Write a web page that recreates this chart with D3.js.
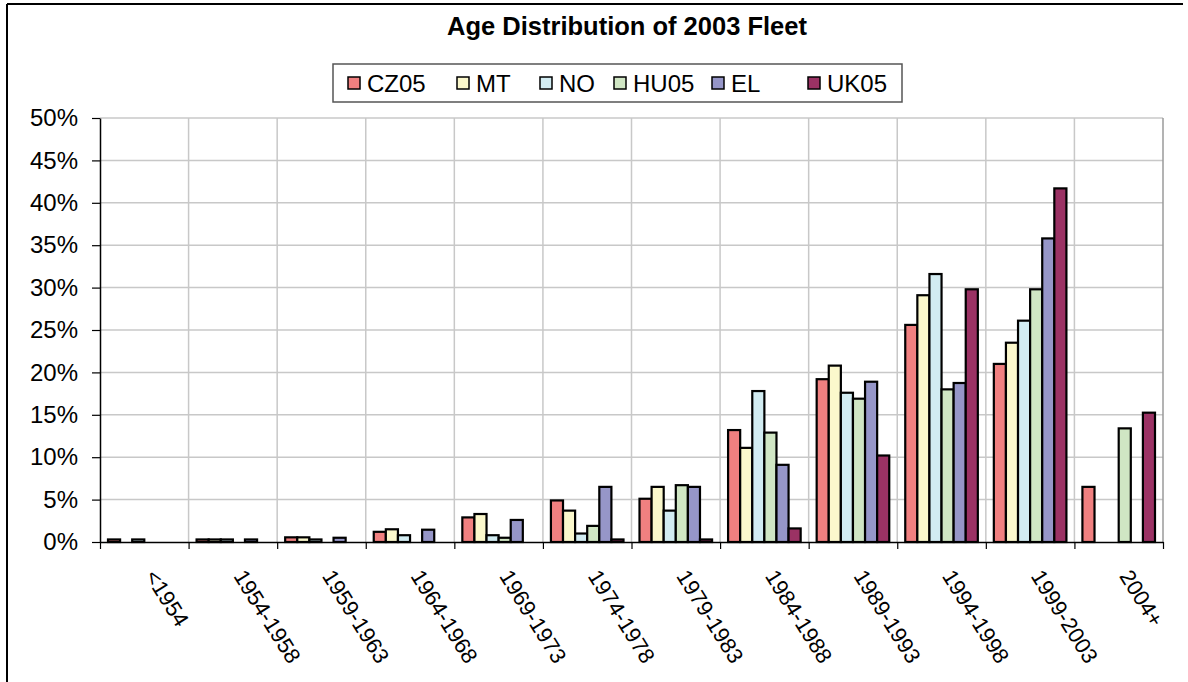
<!DOCTYPE html>
<html>
<head>
<meta charset="utf-8">
<script src="https://cdn.jsdelivr.net/npm/d3@7"></script>
<style>
  html, body { margin: 0; padding: 0; background: #fff; }
  svg { display: block; font-family: "Liberation Sans", Arial, sans-serif; }
</style>
</head>
<body>
<svg id="chart" width="1188" height="682"></svg>
<script>
const categories = ["<1954","1954-1958","1959-1963","1964-1968","1969-1973","1974-1978","1979-1983","1984-1988","1989-1993","1994-1998","1999-2003","2004+"];
const seriesNames = ["CZ05","MT","NO","HU05","EL","UK05"];
const CZ05 = [0.3,0.3,0.55,1.2,2.9,4.9,5.1,13.2,19.2,25.6,21.0,6.5];
const MT   = [0,0.3,0.55,1.5,3.3,3.7,6.5,11.1,20.8,29.1,23.5,0];
const NO   = [0.3,0.3,0.3,0.8,0.8,1.0,3.7,17.8,17.6,31.6,26.1,0];
const HU05 = [0,0,0,0,0.5,1.9,6.7,12.9,16.9,18.0,29.8,13.4];
const EL   = [0,0.3,0.5,1.45,2.6,6.5,6.5,9.1,18.9,18.75,35.8,0];
const UK05 = [0,0,0,0,0,0.3,0.3,1.6,10.2,29.8,41.7,15.25];
const yTicks = [0,5,10,15,20,25,30,35,40,45,50];
const colors = ["#F08080","#FBF8CC","#D2ECF2","#D0E6C4","#9696C8","#9B3264"];
const seriesValues = [CZ05, MT, NO, HU05, EL, UK05];
const title = "Age Distribution of 2003 Fleet";

const svg = d3.select("#chart");
const L = 100, R = 1163, T = 118, B = 542;

// outer frame (top & left visible)
svg.append("line").attr("x1",7).attr("y1",4).attr("x2",1183).attr("y2",4).attr("stroke","#000").attr("stroke-width",2);
svg.append("line").attr("x1",7).attr("y1",4).attr("x2",7).attr("y2",682).attr("stroke","#000").attr("stroke-width",2);

const x0 = d3.scaleBand().domain(categories).range([L, R]).padding(0);
const x1 = d3.scaleBand().domain(seriesNames).range([8, x0.bandwidth() - 8]).padding(0);
const y = d3.scaleLinear().domain([0, 50]).range([B, T]);
const xb = d3.scaleLinear().domain([0, categories.length]).range([L, R]);

// gridlines
svg.append("g").selectAll("line").data(yTicks.slice(1)).join("line")
  .attr("x1", L).attr("x2", R).attr("y1", d => y(d)).attr("y2", d => y(d))
  .attr("stroke", "#c8c8c8").attr("stroke-width", 1.5);
svg.append("g").selectAll("line").data(d3.range(1, categories.length + 1)).join("line")
  .attr("x1", d => xb(d)).attr("x2", d => xb(d)).attr("y1", T).attr("y2", B)
  .attr("stroke", d => d === categories.length ? "#9a9a9a" : "#c8c8c8").attr("stroke-width", 1.5);

// bars
const rows = categories.map((c, i) => ({ cat: c, vals: seriesNames.map((s, j) => ({ s, j, v: seriesValues[j][i] })) }));
const g = svg.append("g").selectAll("g").data(rows).join("g")
  .attr("transform", d => `translate(${x0(d.cat)},0)`);
g.selectAll("rect").data(d => d.vals.filter(v => v.v > 0)).join("rect")
  .attr("x", d => x1(d.s)).attr("width", x1.bandwidth())
  .attr("y", d => y(d.v)).attr("height", d => B - y(d.v))
  .attr("fill", d => colors[d.j]).attr("stroke", "#000").attr("stroke-width", 2.2);

// y axis
const yAxis = svg.append("g").attr("transform", `translate(${L},0)`)
  .call(d3.axisLeft(y).tickValues(yTicks).tickFormat(d => d + "%").tickSize(8).tickSizeOuter(0).tickPadding(14));
yAxis.select(".domain").attr("stroke", "#000").attr("stroke-width", 1.5);
yAxis.selectAll(".tick line").attr("stroke", "#000").attr("stroke-width", 1.2);
yAxis.selectAll("text").attr("font-size", 24).attr("fill", "#000").attr("font-family", "Liberation Sans, Arial, sans-serif");

// x axis
const xAxis = svg.append("g").attr("transform", `translate(0,${B})`)
  .call(d3.axisBottom(xb).tickValues(d3.range(0, categories.length + 1)).tickFormat("").tickSize(7).tickSizeOuter(0));
xAxis.select(".domain").attr("stroke", "#000").attr("stroke-width", 1.5);
xAxis.selectAll(".tick line").attr("stroke", "#000").attr("stroke-width", 1.2);

svg.append("g").selectAll("text").data(categories).join("text")
  .attr("transform", d => `translate(${x0(d) + x0.bandwidth() / 2 + 0},${B + 34}) rotate(58)`)
  .attr("font-size", 22).attr("fill", "#000").attr("text-anchor", "start")
  .text(d => d);

// title
svg.append("text").attr("x", 627).attr("y", 35).attr("text-anchor", "middle")
  .attr("font-size", 25.5).attr("font-weight", "bold").text(title);

// legend
const lg = svg.append("g");
lg.append("rect").attr("x", 333).attr("y", 64).attr("width", 569).attr("height", 38)
  .attr("fill", "#fff").attr("stroke", "#555").attr("stroke-width", 1.5);
const legX = [348, 457, 540, 614, 712, 808];
const items = lg.selectAll("g").data(seriesNames).join("g")
  .attr("transform", (d, i) => `translate(${legX[i]},0)`);
items.append("rect").attr("x", 0).attr("y", 77).attr("width", 12).attr("height", 12)
  .attr("fill", (d, i) => colors[i]).attr("stroke", "#000").attr("stroke-width", 1.5);
items.append("text").attr("x", 19).attr("y", 92).attr("font-size", 24).text(d => d);
</script>
</body>
</html>
